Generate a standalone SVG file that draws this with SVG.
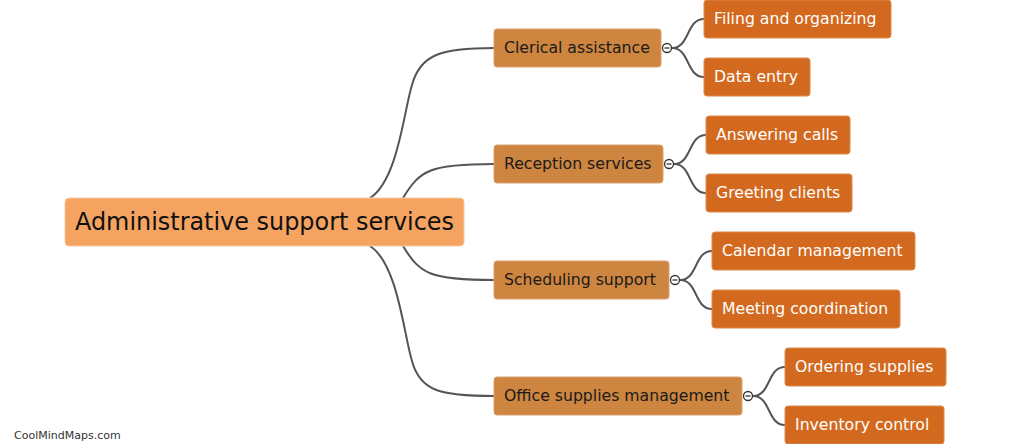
<svg xmlns="http://www.w3.org/2000/svg" width="1023" height="444" viewBox="0 0 1023 444">
<style>
text{font-family:"DejaVu Sans","Verdana",sans-serif}
.root rect{fill:#f4a460;stroke:#f8c9a0;stroke-width:1}
.root text{font-size:24px;fill:#111}
.br rect{fill:#cd853f;stroke:#dba170;stroke-width:1}
.br text{font-size:15.7px;fill:#1a1a1a}
.lf rect{fill:#d2691e;stroke:#de8a4e;stroke-width:1}
.lf text{font-size:15.7px;fill:#fff}
.conn path{fill:none;stroke:#555;stroke-width:2}
.tog{fill:#fff;stroke:#333;stroke-width:1.3}
.tog-l{stroke:#333;stroke-width:1.3}
.foot{font-size:11px;fill:#333}
</style>
<g id="connectors" class="conn">
<path d="M370,198 C398,180 404,110 412,85 C420,55 440,48 494,48"/>
<path d="M403,198 C420,170 430,164 494,164"/>
<path d="M403,246 C420,274 430,280 494,280"/>
<path d="M370,246 C398,264 404,336 412,361 C420,391 440,396 494,396"/>
<path d="M672,48 C690,48 686,19 704,19"/>
<path d="M672,48 C690,48 686,77 704,77"/>
<path d="M674,164 C692,164 688,135 706,135"/>
<path d="M674,164 C692,164 688,193 706,193"/>
<path d="M680,280 C698,280 694,251 712,251"/>
<path d="M680,280 C698,280 694,309 712,309"/>
<path d="M753,396 C771,396 767,367 785,367"/>
<path d="M753,396 C771,396 767,425 785,425"/>
</g>
<g id="root" class="root">
<rect x="65" y="198" width="399" height="48" rx="4"/>
<text x="75" y="230" textLength="379" lengthAdjust="spacingAndGlyphs">Administrative support services</text>
</g>
<g id="clerical" class="br">
<rect x="494" y="29" width="167" height="38" rx="3"/>
<text x="504" y="53">Clerical assistance</text>
<circle class="tog" cx="667" cy="48" r="4.5"/><line class="tog-l" x1="664.5" y1="48" x2="669.5" y2="48"/>
</g>
<g id="reception" class="br">
<rect x="494" y="145" width="169" height="38" rx="3"/>
<text x="504" y="169">Reception services</text>
<circle class="tog" cx="669" cy="164" r="4.5"/><line class="tog-l" x1="666.5" y1="164" x2="671.5" y2="164"/>
</g>
<g id="scheduling" class="br">
<rect x="494" y="261" width="175" height="38" rx="3"/>
<text x="504" y="285">Scheduling support</text>
<circle class="tog" cx="675" cy="280" r="4.5"/><line class="tog-l" x1="672.5" y1="280" x2="677.5" y2="280"/>
</g>
<g id="office" class="br">
<rect x="494" y="377" width="248" height="38" rx="3"/>
<text x="504" y="401">Office supplies management</text>
<circle class="tog" cx="748" cy="396" r="4.5"/><line class="tog-l" x1="745.5" y1="396" x2="750.5" y2="396"/>
</g>
<g id="filing" class="lf"><rect x="704" y="0" width="187" height="38" rx="3"/><text x="714" y="24">Filing and organizing</text></g>
<g id="dataentry" class="lf"><rect x="704" y="58" width="106" height="38" rx="3"/><text x="714" y="82">Data entry</text></g>
<g id="answering" class="lf"><rect x="706" y="116" width="144" height="38" rx="3"/><text x="716" y="140">Answering calls</text></g>
<g id="greeting" class="lf"><rect x="706" y="174" width="146" height="38" rx="3"/><text x="716" y="198">Greeting clients</text></g>
<g id="calendar" class="lf"><rect x="712" y="232" width="203" height="38" rx="3"/><text x="722" y="256">Calendar management</text></g>
<g id="meeting" class="lf"><rect x="712" y="290" width="188" height="38" rx="3"/><text x="722" y="314">Meeting coordination</text></g>
<g id="ordering" class="lf"><rect x="785" y="348" width="161" height="38" rx="3"/><text x="795" y="372">Ordering supplies</text></g>
<g id="inventory" class="lf"><rect x="785" y="406" width="159" height="38" rx="3"/><text x="795" y="430">Inventory control</text></g>
<text class="foot" x="14" y="439">CoolMindMaps.com</text>
</svg>
